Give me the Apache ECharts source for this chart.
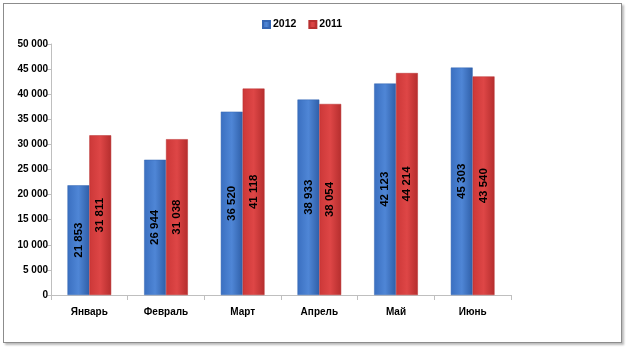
<!DOCTYPE html>
<html><head><meta charset="utf-8">
<script src="https://cdn.jsdelivr.net/npm/echarts@6/dist/echarts.min.js"></script>
<style>
html,body{margin:0;padding:0;background:#fff;}
#frame{position:absolute;left:3px;top:3px;width:617px;height:338px;border:1px solid #8c8c8c;box-shadow:2px 2px 2px #bbb;}
#c{position:absolute;left:0;top:0;width:627px;height:348px;}
</style></head><body>
<div id="frame"></div>
<div id="c"></div>
<script>
const categories = ['Январь','Февраль','Март','Апрель','Май','Июнь'];
const series2012 = [21853, 26944, 36520, 38933, 42123, 45303];
const series2011 = [31811, 31038, 41118, 38054, 44214, 43540];
const yTicks = [0,5000,10000,15000,20000,25000,30000,35000,40000,45000,50000];

const fmt = v => String(v).replace(/\B(?=(\d{3})+(?!\d))/g, ' ');
const font = '"Liberation Sans", Arial, sans-serif';

function grad(c1, c2, c3){
  return new echarts.graphic.LinearGradient(0,0,1,0,[
    {offset:0,color:c1},{offset:0.5,color:c2},{offset:1,color:c3}]);
}

const chart = echarts.init(document.getElementById('c'), null, {renderer:'canvas'});
chart.setOption({
  animation:false,
  legend:{
    left:262, top:19, padding:0, itemWidth:7, itemHeight:7, itemGap:12,
    icon:'rect',
    textStyle:{fontFamily:font,fontWeight:'bold',fontSize:10.5,color:'#000',padding:[0,0,0,-2]},
    data:['2012','2011']
  },
  grid:{left:51,right:116,top:44,bottom:53,containLabel:false},
  xAxis:{
    type:'category', data:categories,
    axisLine:{lineStyle:{color:'#bfbfbf'}},
    axisTick:{show:true,length:5,alignWithLabel:false,lineStyle:{color:'#bfbfbf'}},
    axisLabel:{fontFamily:font,fontWeight:'bold',fontSize:10,color:'#000',margin:12}
  },
  yAxis:{
    type:'value', min:yTicks[0], max:yTicks[yTicks.length-1], interval:5000,
    axisLine:{show:true,lineStyle:{color:'#bfbfbf'}},
    axisTick:{show:true,length:4,lineStyle:{color:'#bfbfbf'}},
    splitLine:{show:false},
    axisLabel:{fontFamily:font,fontWeight:'bold',fontSize:10,color:'#000',margin:3,formatter:fmt}
  },
  series:[
    {
      name:'2012', type:'bar', data:series2012, barGap:'0%', barCategoryGap:'43%',
      itemStyle:{color:grad('#3a6fc0','#4f86d6','#2f5fa8'),borderColor:'#3566b3',borderWidth:0.5},
      label:{show:true,position:'inside',rotate:90,fontFamily:font,fontWeight:'bold',fontSize:11.5,color:'#000',formatter:p=>fmt(p.value)}
    },
    {
      name:'2011', type:'bar', data:series2011,
      itemStyle:{color:grad('#cc3838','#de4646','#b52e2e'),borderColor:'#b83030',borderWidth:0.5},
      label:{show:true,position:'inside',rotate:90,fontFamily:font,fontWeight:'bold',fontSize:11.5,color:'#000',formatter:p=>fmt(p.value)}
    }
  ]
});
</script>
</body></html>
